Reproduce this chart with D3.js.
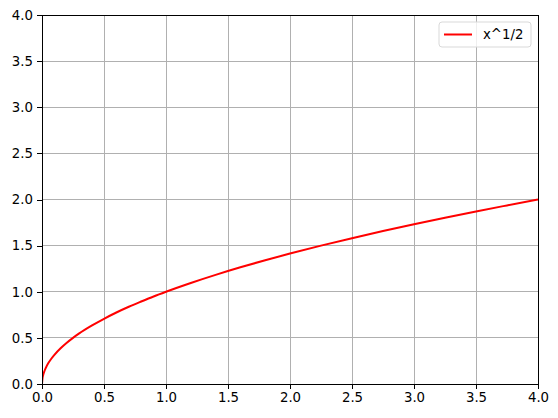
<!DOCTYPE html>
<html>
<head>
<meta charset="utf-8">
<script src="https://cdn.jsdelivr.net/npm/d3@7"></script>
<style>
  body { margin: 0; background: #fff; }
  svg { display: block; font-family: "DejaVu Sans", sans-serif; }
</style>
</head>
<body>
<svg id="chart" width="558" height="418"></svg>
<script>
// datos
const xVals = [0, 0.005, 0.01, 0.02, 0.03, 0.05, 0.075, 0.1, 0.15, 0.2, 0.25, 0.3, 0.4, 0.5, 0.6, 0.7, 0.8, 0.9, 1.0, 1.2, 1.4, 1.6, 1.8, 2.0, 2.25, 2.5, 2.75, 3.0, 3.25, 3.5, 3.75, 4.0]
const yVals = [0, 0.071, 0.1, 0.141, 0.173, 0.224, 0.274, 0.316, 0.387, 0.447, 0.5, 0.548, 0.632, 0.707, 0.775, 0.837, 0.894, 0.949, 1.0, 1.095, 1.183, 1.265, 1.342, 1.414, 1.5, 1.581, 1.658, 1.732, 1.803, 1.871, 1.936, 2.0]
const xTicks = [0, 0.5, 1, 1.5, 2, 2.5, 3, 3.5, 4]
const yTicks = [0, 0.5, 1, 1.5, 2, 2.5, 3, 3.5, 4]
const seriesName = "x^1/2"

const pLeft = 42, pRight = 538, pTop = 15, pBottom = 384

const svg = d3.select('#chart')

const x = d3.scaleLinear().domain([0, 4]).range([pLeft, pRight])
const y = d3.scaleLinear().domain([0, 4]).range([pBottom, pTop])

// grid
svg.append('g')
  .attr('shape-rendering', 'crispEdges')
  .selectAll('line.vgrid')
  .data(xTicks)
  .enter()
  .append('line')
  .attr('x1', d => x(d)).attr('x2', d => x(d))
  .attr('y1', pTop).attr('y2', pBottom)
  .attr('stroke', '#b0b0b0')
  .attr('stroke-width', 1)

svg.append('g')
  .attr('shape-rendering', 'crispEdges')
  .selectAll('line.hgrid')
  .data(yTicks)
  .enter()
  .append('line')
  .attr('x1', pLeft).attr('x2', pRight)
  .attr('y1', d => y(d)).attr('y2', d => y(d))
  .attr('stroke', '#b0b0b0')
  .attr('stroke-width', 1)

// linea
const data = xVals.map((v, i) => ({ x: v, y: yVals[i] }))
const line = d3.line()
  .x(d => x(d.x))
  .y(d => y(d.y))
  .curve(d3.curveMonotoneX)

svg.append('defs').append('clipPath').attr('id', 'clip')
  .append('rect')
  .attr('x', pLeft).attr('y', pTop)
  .attr('width', pRight - pLeft).attr('height', pBottom - pTop)

svg.append('path')
  .datum(data)
  .attr('d', line)
  .attr('fill', 'none')
  .attr('stroke', 'red')
  .attr('stroke-width', 2)
  .attr('clip-path', 'url(#clip)')

// ejes
const fmt = d3.format('.1f')
const xAxis = svg.append('g')
  .attr('transform', `translate(0,${pBottom})`)
  .call(d3.axisBottom(x).tickValues(xTicks).tickFormat(fmt).tickSize(5).tickPadding(4))
const yAxis = svg.append('g')
  .attr('transform', `translate(${pLeft},0)`)
  .call(d3.axisLeft(y).tickValues(yTicks).tickFormat(fmt).tickSize(5).tickPadding(4))

;[xAxis, yAxis].forEach(a => {
  a.select('.domain').remove()
  a.selectAll('text')
    .style('font-family', '"DejaVu Sans", sans-serif')
    .style('font-size', '13.3px')
    .attr('fill', '#000')
  a.selectAll('line')
    .attr('stroke', '#000')
    .attr('stroke-width', 1)
    .attr('shape-rendering', 'crispEdges')
})

// marco
svg.append('rect')
  .attr('x', pLeft).attr('y', pTop)
  .attr('width', pRight - pLeft).attr('height', pBottom - pTop)
  .attr('fill', 'none')
  .attr('stroke', '#000')
  .attr('stroke-width', 1)
  .attr('shape-rendering', 'crispEdges')

// leyenda
const legend = svg.append('g').attr('transform', 'translate(439,22)')
legend.append('rect')
  .attr('x', 0).attr('y', 0)
  .attr('width', 92).attr('height', 25)
  .attr('rx', 3)
  .attr('fill', '#fff')
  .attr('fill-opacity', 0.8)
  .attr('stroke', '#d9d9d9')
  .attr('stroke-width', 1)
legend.append('line')
  .attr('x1', 5).attr('x2', 33)
  .attr('y1', 12.5).attr('y2', 12.5)
  .attr('stroke', 'red')
  .attr('stroke-width', 2)
legend.append('text')
  .attr('x', 44).attr('y', 17)
  .style('font-size', '13.3px')
  .text(seriesName)
</script>
</body>
</html>
